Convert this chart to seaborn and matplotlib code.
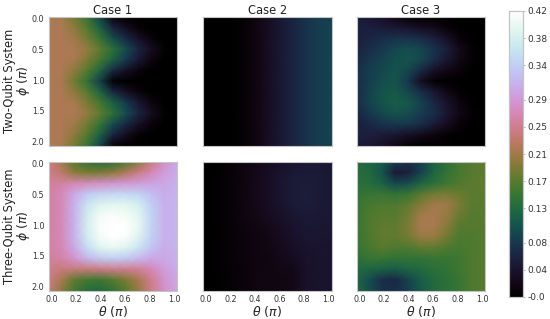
import numpy as np
import seaborn as sns
import matplotlib.pyplot as plt

# Valores: linhas = phi (0 a 2, passo 1/6), colunas = theta (0 a 1, passo 0.1)
two_case1 = [
    [.218, .215, .185, .150, .090, .010, .000, .000, .000, .000, .000],
    [.218, .218, .200, .168, .120, .060, .030, .008, .000, .000, .000],
    [.218, .218, .210, .185, .148, .100, .065, .035, .010, .000, .000],
    [.218, .218, .218, .205, .175, .140, .100, .060, .030, .005, .000],
    [.218, .218, .215, .190, .158, .120, .082, .045, .015, .000, .000],
    [.218, .218, .200, .170, .125, .065, .035, .012, .000, .000, .000],
    [.218, .215, .185, .145, .085, .005, .000, .000, .000, .000, .000],
    [.218, .218, .200, .170, .125, .065, .035, .012, .000, .000, .000],
    [.218, .218, .215, .190, .158, .120, .082, .045, .015, .000, .000],
    [.218, .218, .218, .205, .175, .140, .100, .060, .030, .005, .000],
    [.218, .218, .210, .185, .148, .100, .065, .035, .010, .000, .000],
    [.218, .218, .200, .168, .120, .060, .030, .008, .000, .000, .000],
    [.218, .215, .185, .150, .090, .010, .000, .000, .000, .000, .000],
]
two_case2 = [[.000, .000, .000, .005, .015, .030, .045, .060, .075, .085, .090]] * 13
two_case3 = [
    [.050, .045, .035, .020, .005, .000, .000, .000, .000, .000, .000],
    [.055, .055, .050, .045, .040, .030, .025, .010, .000, .000, .000],
    [.055, .060, .070, .075, .075, .070, .055, .035, .010, .000, .000],
    [.060, .070, .080, .095, .100, .095, .075, .055, .025, .005, .000],
    [.065, .080, .090, .100, .105, .095, .070, .045, .020, .005, .000],
    [.070, .085, .095, .105, .095, .065, .035, .020, .010, .000, .000],
    [.070, .085, .100, .105, .080, .030, .005, .000, .000, .000, .000],
    [.070, .090, .105, .110, .095, .070, .045, .020, .005, .000, .000],
    [.070, .090, .105, .115, .110, .090, .065, .040, .015, .000, .000],
    [.060, .080, .095, .105, .100, .085, .070, .045, .020, .005, .000],
    [.055, .065, .075, .080, .080, .070, .050, .030, .010, .000, .000],
    [.055, .055, .050, .045, .035, .025, .015, .005, .000, .000, .000],
    [.050, .045, .035, .020, .005, .000, .000, .000, .000, .000, .000],
]
three_case1 = [
    [.245, .215, .170, .145, .135, .140, .165, .200, .240, .280, .305],
    [.250, .230, .200, .190, .190, .200, .220, .245, .270, .295, .310],
    [.255, .260, .270, .275, .280, .285, .290, .295, .300, .305, .312],
    [.258, .272, .305, .335, .345, .350, .350, .345, .325, .310, .315],
    [.258, .272, .312, .365, .390, .395, .395, .380, .340, .312, .315],
    [.258, .272, .312, .375, .410, .415, .410, .395, .345, .312, .315],
    [.258, .272, .312, .378, .415, .420, .420, .400, .345, .312, .315],
    [.258, .272, .312, .375, .410, .420, .415, .390, .342, .312, .315],
    [.258, .270, .305, .355, .390, .400, .390, .365, .330, .310, .315],
    [.255, .262, .285, .315, .335, .340, .335, .320, .305, .305, .312],
    [.250, .240, .240, .240, .245, .250, .250, .255, .270, .295, .310],
    [.245, .215, .175, .160, .155, .170, .190, .215, .250, .285, .305],
    [.240, .200, .160, .135, .130, .145, .170, .205, .245, .280, .305],
]
three_case2 = [
    [.000, .003, .008, .015, .020, .028, .035, .042, .045, .045, .043],
    [.000, .003, .008, .015, .022, .030, .040, .047, .050, .048, .045],
    [.000, .003, .008, .015, .023, .032, .042, .050, .052, .050, .045],
    [.000, .003, .008, .015, .023, .032, .042, .050, .053, .050, .045],
    [.000, .003, .008, .015, .022, .030, .040, .048, .051, .049, .045],
    [.000, .003, .008, .015, .020, .028, .036, .044, .048, .047, .045],
    [.000, .003, .008, .013, .018, .024, .032, .040, .045, .045, .043],
    [.000, .003, .008, .012, .016, .021, .029, .037, .043, .043, .042],
    [.000, .003, .008, .012, .015, .019, .026, .034, .040, .042, .041],
    [.000, .003, .007, .012, .015, .018, .023, .030, .038, .041, .041],
    [.000, .003, .006, .011, .015, .017, .020, .022, .037, .041, .041],
    [.000, .003, .006, .011, .015, .017, .019, .021, .037, .041, .041],
    [.000, .003, .006, .011, .015, .017, .019, .022, .037, .041, .041],
]
three_case3 = [
    [.130, .125, .110, .080, .070, .085, .120, .140, .160, .170, .175],
    [.135, .130, .105, .050, .055, .090, .125, .145, .160, .170, .175],
    [.140, .135, .120, .095, .100, .125, .140, .155, .165, .172, .175],
    [.145, .150, .150, .145, .150, .170, .185, .188, .180, .172, .175],
    [.150, .160, .165, .165, .175, .195, .210, .210, .188, .172, .170],
    [.150, .165, .170, .170, .185, .210, .216, .205, .180, .168, .170],
    [.150, .165, .175, .175, .190, .215, .216, .198, .170, .168, .170],
    [.150, .165, .175, .175, .185, .205, .205, .185, .165, .165, .170],
    [.150, .160, .170, .165, .165, .175, .175, .165, .160, .165, .170],
    [.140, .150, .150, .145, .145, .145, .150, .150, .155, .165, .170],
    [.130, .125, .120, .115, .125, .130, .140, .145, .155, .165, .170],
    [.125, .100, .070, .065, .090, .115, .130, .140, .150, .165, .170],
    [.130, .100, .075, .070, .085, .110, .130, .140, .150, .165, .170],
]

cases = ['Case 1', 'Case 2', 'Case 3']
systems = ['Two-Qubit System', 'Three-Qubit System']
grids = [[two_case1, two_case2, two_case3], [three_case1, three_case2, three_case3]]
theta_ticks = [0.0, 0.2, 0.4, 0.6, 0.8, 1.0]
phi_ticks = [0.0, 0.5, 1.0, 1.5, 2.0]
cbar_ticks = [0.0, 0.04, 0.08, 0.13, 0.17, 0.21, 0.25, 0.29, 0.34, 0.38, 0.42]
cbar_labels = ['-0.0', '0.04', '0.08', '0.13', '0.17', '0.21', '0.25', '0.29', '0.34', '0.38', '0.42']

sns.set_style('white')
plt.rcParams['font.family'] = ['DejaVu Sans']
W, H = 550, 319
fig = plt.figure(figsize=(W / 100, H / 100), dpi=100)
lefts = [48.5, 203, 356.5]
tops = [17, 162]
size = 128.5
cax = fig.add_axes([509 / W, 1 - 297 / H, 14 / W, 286 / H])
cmap = sns.color_palette('cubehelix', as_cmap=True)
margin = 0.022  # os ticks ficam no centro da primeira/ultima celula do original

for r, row in enumerate(grids):
    for c, grid in enumerate(row):
        ax = fig.add_axes([lefts[c] / W, 1 - (tops[r] + size) / H, size / W, size / H])
        data = np.array(grid)
        ny, nx = data.shape
        sns.heatmap(data, ax=ax, cmap=cmap, vmin=0, vmax=0.42, shading='gouraud',
                    cbar=(r == 0 and c == 0), cbar_ax=cax if (r == 0 and c == 0) else None)
        ax.set_xlim(0, nx - 1)
        ax.set_ylim(ny - 1, 0)
        for s in ax.spines.values():
            s.set_visible(True)
            s.set_color('#c4c4c4')
            s.set_linewidth(0.8)
        if r == 1:
            ax.set_xticks([(margin + (1 - 2 * margin) * t) * (nx - 1) for t in theta_ticks])
            ax.set_xticklabels([f'{t:.1f}' for t in theta_ticks], rotation=0, fontsize=5.8, color='#333333')
            ax.set_xlabel(r'$\theta$ ($\pi$)', fontsize=9, labelpad=0, color='#222222')
        else:
            ax.set_xticks([])
            ax.set_title(cases[c], fontsize=8.3, pad=0.5, color='#222222')
        if c == 0:
            ax.set_yticks([(margin + (1 - 2 * margin) * p / 2) * (ny - 1) for p in phi_ticks])
            ax.set_yticklabels([f'{p:.1f}' for p in phi_ticks], rotation=0, fontsize=5.8, color='#333333')
            ax.set_ylabel(r'$\phi$ ($\pi$)', fontsize=9, color='#222222')
            ax.yaxis.set_label_coords(-0.125, 0.5)
            fig.text(9.5 / W, 1 - (tops[r] + size / 2) / H, systems[r], rotation=90, ha='center', va='center',
                     fontsize=8.3, color='#222222')
        else:
            ax.set_yticks([])
        ax.tick_params(length=0, pad=3)

cax.set_yticks(cbar_ticks)
cax.set_yticklabels(cbar_labels, fontsize=6.5, color='#333333')
cax.tick_params(length=1.5, pad=1.5, width=0.5, color='#999999', right=True)
for s in cax.spines.values():
    s.set_visible(True)
    s.set_color('#c4c4c4')
    s.set_linewidth(0.8)

fig.savefig('out.png', dpi=100)
